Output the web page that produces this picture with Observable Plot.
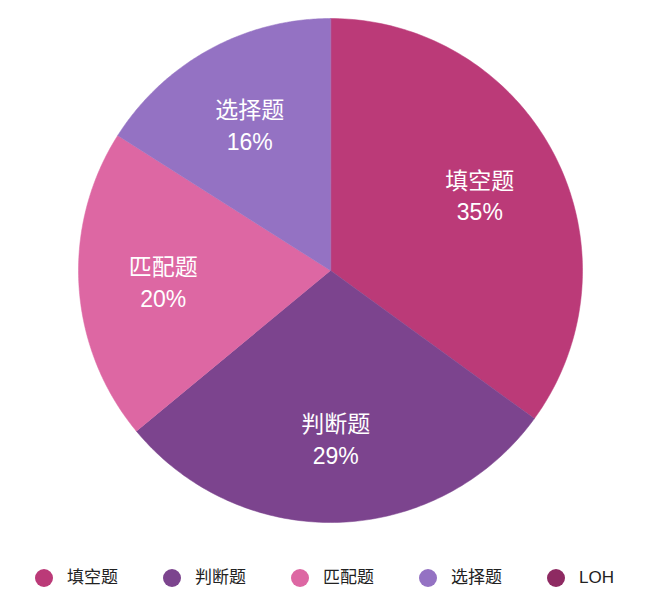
<!DOCTYPE html>
<html>
<head>
<meta charset="utf-8">
<script src="https://cdn.jsdelivr.net/npm/d3@7"></script>
<script src="https://cdn.jsdelivr.net/npm/@observablehq/plot@0.6"></script>
<style>
  body { margin: 0; background: #fff; font-family: "Liberation Sans", "Noto Sans CJK SC", sans-serif; }
  #wrap { position: relative; width: 660px; height: 592px; }
  .leg { position: absolute; top: 566px; height: 24px; display: flex; align-items: center; font-size: 17px; line-height: 24px; color: #222; }
  .leg span.dot { width: 18px; height: 18px; border-radius: 50%; display: inline-block; margin-right: 14px; flex: none; }
  .leg span.t { display: inline-block; height: 24px; line-height: 24px; }
</style>
</head>
<body>
<div id="wrap"></div>
<script>
const categories = ["填空题", "判断题", "匹配题", "选择题", "LOH"];
const values = [35, 29, 20, 16, 0];
const colors = ["#BB3A78", "#7C448E", "#DD67A3", "#9472C3", "#8E2A62"];

const pie = d3.pie().sort(null).value(d => d)(values);
const pts = [];
const labels = [];
pie.forEach((a, i) => {
  if (a.endAngle - a.startAngle <= 0) return;
  const cat = categories[i];
  pts.push({x: 0, y: 0, cat});
  const n = 120;
  for (let k = 0; k <= n; k++) {
    const t = a.startAngle + (a.endAngle - a.startAngle) * k / n;
    pts.push({x: Math.sin(t), y: Math.cos(t), cat});
  }
  const m = (a.startAngle + a.endAngle) / 2;
  labels.push({x: 0.665 * Math.sin(m), y: 0.665 * Math.cos(m), text: cat + "\n" + values[i] + "%"});
});

const chart = Plot.plot({
  width: 660,
  height: 545,
  marginLeft: 78,
  marginRight: 78,
  marginTop: 18,
  marginBottom: 23,
  x: {domain: [-1, 1], axis: null},
  y: {domain: [-1, 1], axis: null},
  color: {domain: categories, range: colors},
  style: {fontFamily: "'Liberation Sans', 'Noto Sans CJK SC', sans-serif"},
  marks: [
    Plot.line(pts, {x: "x", y: "y", z: "cat", fill: "cat", stroke: "cat", strokeWidth: 0.5, curve: "linear-closed"}),
    Plot.text(labels, {x: "x", y: "y", text: "text", fill: "white", fontSize: 23, lineHeight: 1.38})
  ]
});
const wrap = document.getElementById("wrap");
wrap.appendChild(chart);

categories.forEach((c, i) => {
  const d = document.createElement("div");
  d.className = "leg";
  d.style.left = (35 + i * 128) + "px";
  d.innerHTML = `<span class="dot" style="background:${colors[i]}"></span><span class="t">${c}</span>`;
  wrap.appendChild(d);
});
</script>
</body>
</html>
